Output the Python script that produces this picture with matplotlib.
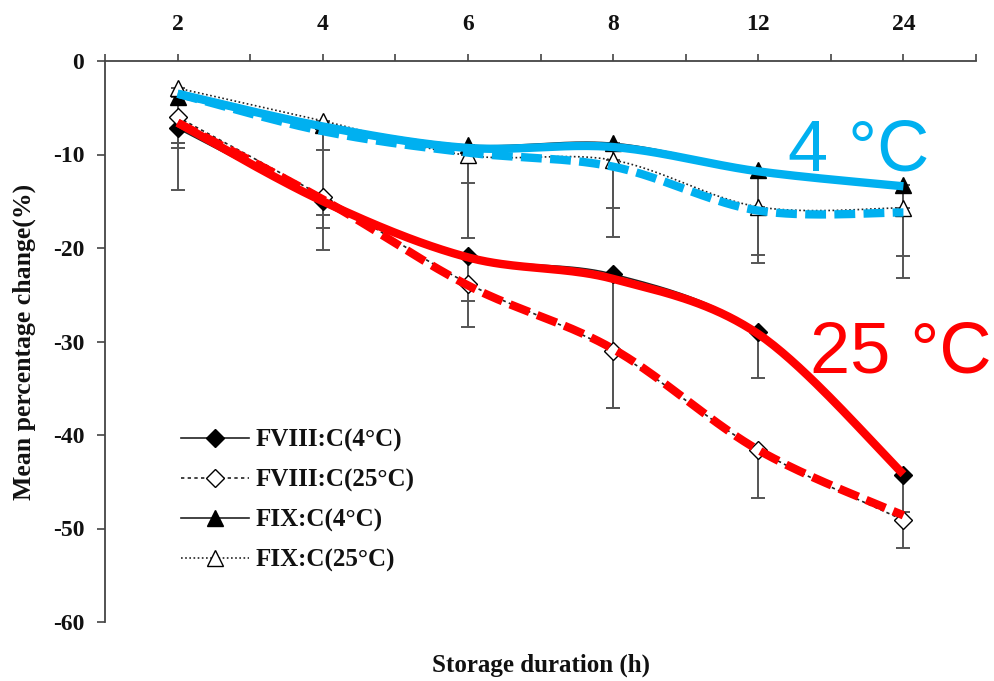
import numpy as np
import matplotlib
matplotlib.use("Agg")
import matplotlib.pyplot as plt
from matplotlib.lines import Line2D

plt.rcParams["axes.unicode_minus"] = False

# ---- data ----
hours = ["2", "4", "6", "8", "12", "24"]
series_names = ["FVIII:C(4°C)", "FVIII:C(25°C)", "FIX:C(4°C)", "FIX:C(25°C)"]

fviii_4 = [-7.2, -15.0, -20.9, -22.8, -29.0, -44.3]
fviii_4_err = [6.6, 5.2, 4.8, 14.3, 4.9, 3.9]
fviii_25 = [-6.0, -14.5, -23.8, -31.0, -41.6, -49.1]
fviii_25_err = [2.8, 3.4, 4.6, 6.1, 5.1, 3.0]
fix_4 = [-3.9, -6.8, -9.0, -8.8, -11.7, -13.3]
fix_4_err = [5.4, 9.7, 9.9, 6.9, 9.0, 7.6]
fix_25 = [-2.9, -6.4, -10.1, -10.6, -15.6, -15.7]
fix_25_err = [5.9, 3.1, 3.0, 8.2, 6.0, 7.5]

# hand-drawn highlight curves
blue_solid = [-3.5, -7.0, -9.3, -9.2, -11.8, -13.4]
blue_dashed = [-3.5, -7.5, -9.8, -11.3, -16.0, -16.2]
red_solid = [-6.6, -15.0, -21.0, -23.3, -29.2, -44.2]
red_dashed = [-6.6, -14.8, -24.0, -30.8, -41.6, -48.6]

label_4 = "4 °C"
label_25 = "25 °C"


def smooth(xs, ys, n=40):
    P = np.column_stack([np.asarray(xs, float), np.asarray(ys, float)])
    out = []
    for i in range(len(P) - 1):
        p0 = P[i - 1] if i > 0 else P[i]
        p1 = P[i]
        p2 = P[i + 1]
        p3 = P[i + 2] if i + 2 < len(P) else P[i + 1]
        c1 = p1 + (p2 - p0) / 6.0
        c2 = p2 - (p3 - p1) / 6.0
        t = np.linspace(0, 1, n)[:, None]
        seg = (1 - t) ** 3 * p1 + 3 * (1 - t) ** 2 * t * c1 + 3 * (1 - t) * t ** 2 * c2 + t ** 3 * p2
        out.append(seg if i == 0 else seg[1:])
    return np.vstack(out)


W, H = 994, 681
fig = plt.figure(figsize=(W / 100, H / 100), dpi=100)
ax = fig.add_axes([105 / W, 1 - 622 / H, (976 - 105) / W, (622 - 61) / H])

serif = ["Liberation Serif", "DejaVu Serif"]
x = np.arange(len(hours))

ax.set_xlim(-0.5, len(hours) - 0.5)
ax.set_ylim(-60, 0)

# spines
for s in ["bottom", "right"]:
    ax.spines[s].set_visible(False)
for s in ["top", "left"]:
    ax.spines[s].set_color("#444444")
    ax.spines[s].set_linewidth(1.3)

ax.xaxis.tick_top()
ax.set_xticks(x)
ax.set_xticklabels(hours)
ax.set_xticks(np.arange(-0.5, len(hours), 1.0), minor=True)
ax.tick_params(axis="x", which="both", direction="out", length=5, width=1.2,
               color="#444444", pad=14)
ax.set_yticks(np.arange(-60, 1, 10))
ax.tick_params(axis="y", direction="out", length=6, width=1.2, color="#444444", pad=9)
for lab in ax.get_xticklabels() + ax.get_yticklabels():
    lab.set_fontfamily(serif)
    lab.set_fontweight("bold")
    lab.set_fontsize(17)
    lab.set_color("#111111")

ax.set_ylabel("Mean percentage change(%)", fontfamily=serif, fontweight="bold",
              fontsize=18.5, color="#111111", labelpad=12)
fig.text(541 / W, 1 - 665 / H, "Storage duration (h)", ha="center", va="center",
         fontfamily=serif, fontweight="bold", fontsize=18, color="#111111")

# error bars (lower only)
ecol = "#555555"
for vals, errs in [(fviii_4, fviii_4_err), (fviii_25, fviii_25_err),
                   (fix_4, fix_4_err), (fix_25, fix_25_err)]:
    ax.errorbar(x, vals, yerr=[errs, np.zeros(len(errs))], fmt="none",
                ecolor=ecol, elinewidth=1.4, capsize=5, capthick=1.4, zorder=2)

# thin black series curves
styles = [
    (fviii_4, "-", "D", "black", 9),
    (fviii_25, (0, (2, 2)), "D", "white", 9),
    (fix_4, "-", "^", "black", 11),
    (fix_25, (0, (1, 1.5)), "^", "white", 11),
]
handles = []
for (vals, ls, mk, fc, ms), name in zip(styles, series_names):
    c = smooth(x, vals)
    ax.plot(c[:, 0], c[:, 1], color="#222222", lw=1.2, ls=ls, zorder=3)
    ax.plot(x, vals, ls="none", marker=mk, ms=ms,
            mfc=fc, mec="black", mew=1.0, zorder=4)
    handles.append(Line2D([], [], color="#222222", lw=1.2, ls=ls, marker=mk,
                          ms=ms, mfc=fc, mec="black", mew=1.0))

# highlight overlays
blue = "#00B0F0"
red = "#FF0000"
for vals, col, ls in [(blue_solid, blue, "-"), (blue_dashed, blue, (0, (2.5, 1.0))),
                      (red_solid, red, "-"), (red_dashed, red, (0, (2.5, 1.0)))]:
    c = smooth(x, vals)
    ax.plot(c[:, 0], c[:, 1], color=col, lw=6, ls=ls, zorder=6,
            solid_capstyle="butt", dash_capstyle="butt")

ax.text(4.205, -11.66, label_4, color=blue, fontsize=52, fontfamily="Liberation Sans",
        ha="left", va="baseline", zorder=7)
ax.text(4.357, -33.3, label_25, color=red, fontsize=52, fontfamily="Liberation Sans",
        ha="left", va="baseline", zorder=7, clip_on=False)

leg = fig.legend(handles, series_names, loc="upper left",
                 bbox_to_anchor=(181 / W, 1 - 429 / H), frameon=False,
                 prop={"family": serif, "weight": "bold", "size": 18},
                 handlelength=2.7, handletextpad=0.3, labelspacing=0.66,
                 borderpad=0, borderaxespad=0)
for t in leg.get_texts():
    t.set_color("#111111")

fig.savefig("out.png", dpi=100)
